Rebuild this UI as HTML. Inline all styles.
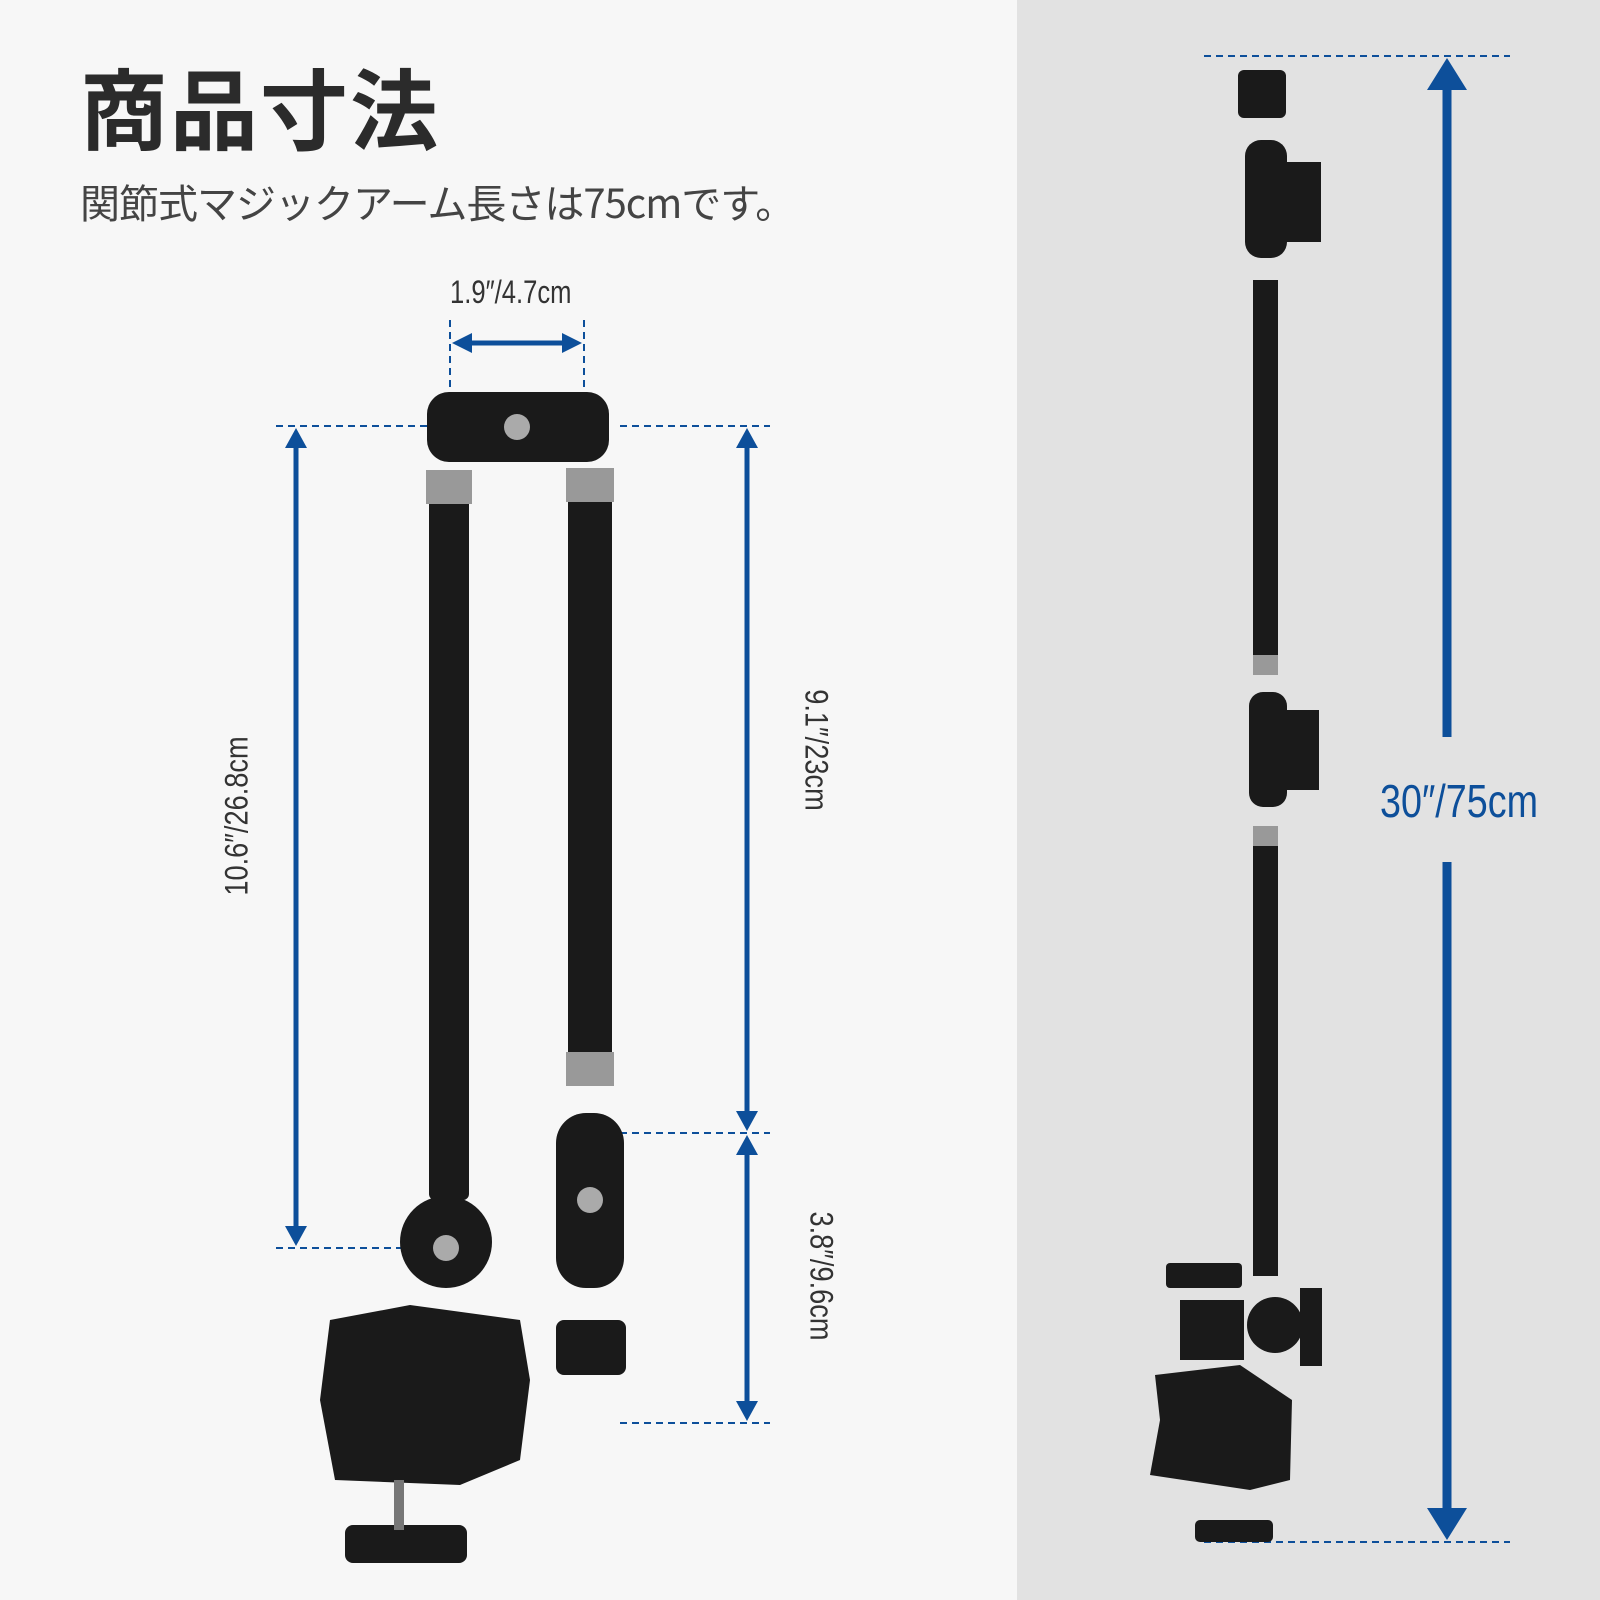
<!DOCTYPE html>
<html><head><meta charset="utf-8"><style>
html,body{margin:0;padding:0}
body{width:1600px;height:1600px;position:relative;background:#f7f7f7;overflow:hidden;font-family:"Liberation Sans","Noto Sans CJK JP",sans-serif}
.t{position:absolute;white-space:nowrap}
</style></head><body>
<div style="position:absolute;left:1017px;top:0;width:583px;height:1600px;background:#e2e2e2"></div>
<div class="t" style="left:80px;top:42px;font-size:88px;font-weight:bold;color:#2b2b2b;font-family:'Noto Sans CJK JP',sans-serif;letter-spacing:2px">商品寸法</div>
<div class="t" style="left:80px;top:172px;font-size:40px;color:#444;font-family:'Noto Sans CJK JP',sans-serif;letter-spacing:-1px">関節式マジックアーム長さは75cmです。</div>
<div class="t" style="left:450px;top:274px;font-size:32px;color:#333;transform:scaleX(0.8);transform-origin:left">1.9″/4.7cm</div>
<div class="t" style="left:237px;top:816px;font-size:32px;color:#333;transform:translate(-50%,-50%) rotate(-90deg) scaleX(0.85)">10.6″/26.8cm</div>
<div class="t" style="left:816px;top:750px;font-size:32px;color:#333;transform:translate(-50%,-50%) rotate(90deg) scaleX(0.85)">9.1″/23cm</div>
<div class="t" style="left:821px;top:1276px;font-size:32px;color:#333;transform:translate(-50%,-50%) rotate(90deg) scaleX(0.85)">3.8″/9.6cm</div>
<div class="t" style="left:1459px;top:801px;font-size:46px;color:#0d4f9a;transform:translate(-50%,-50%) scaleX(0.82)">30″/75cm</div>
<svg width="1600" height="1600" style="position:absolute;left:0;top:0">
<g stroke="#0d4f9a" stroke-width="2" stroke-dasharray="7,5" fill="none">
<line x1="450" y1="320" x2="450" y2="392"/><line x1="584" y1="320" x2="584" y2="392"/>
<line x1="276" y1="426" x2="427" y2="426"/><line x1="620" y1="426" x2="770" y2="426"/>
<line x1="276" y1="1248" x2="420" y2="1248"/>
<line x1="620" y1="1133" x2="770" y2="1133"/><line x1="620" y1="1423" x2="770" y2="1423"/>
<line x1="1204" y1="56" x2="1510" y2="56"/><line x1="1204" y1="1542" x2="1510" y2="1542"/>
</g>
<g fill="#0d4f9a" stroke="#0d4f9a">
<line x1="465" y1="343" x2="570" y2="343" stroke-width="5"/>
<polygon points="452,343 472,333 472,353" stroke="none"/><polygon points="582,343 562,333 562,353" stroke="none"/>
<line x1="296" y1="440" x2="296" y2="1234" stroke-width="5"/>
<polygon points="296,428 285,448 307,448" stroke="none"/><polygon points="296,1246 285,1226 307,1226" stroke="none"/>
<line x1="747" y1="440" x2="747" y2="1120" stroke-width="5"/>
<polygon points="747,428 736,448 758,448" stroke="none"/><polygon points="747,1131 736,1111 758,1111" stroke="none"/>
<line x1="747" y1="1146" x2="747" y2="1410" stroke-width="5"/>
<polygon points="747,1135 736,1155 758,1155" stroke="none"/><polygon points="747,1421 736,1401 758,1401" stroke="none"/>
<line x1="1447" y1="80" x2="1447" y2="737" stroke-width="9"/>
<polygon points="1447,58 1427,90 1467,90" stroke="none"/>
<line x1="1447" y1="862" x2="1447" y2="1520" stroke-width="9"/>
<polygon points="1447,1540 1427,1508 1467,1508" stroke="none"/>
</g>
<g fill="#1a1a1a">
<rect x="427" y="392" width="182" height="70" rx="22"/>
<rect x="429" y="470" width="40" height="730" rx="6"/>
<rect x="568" y="468" width="44" height="596"/>
<rect x="426" y="470" width="46" height="34" fill="#999"/><rect x="566" y="468" width="48" height="34" fill="#999"/>
<rect x="566" y="1052" width="48" height="34" fill="#999"/>
<rect x="556" y="1113" width="68" height="175" rx="30"/>
<rect x="556" y="1320" width="70" height="55" rx="8"/>
<circle cx="446" cy="1242" r="46"/>
<polygon points="330,1320 410,1305 520,1320 530,1380 520,1460 460,1485 335,1480 320,1400"/>
<rect x="345" y="1525" width="122" height="38" rx="8"/>
<rect x="394" y="1480" width="10" height="50" fill="#777"/>
<rect x="1238" y="70" width="48" height="48" rx="6"/>
<rect x="1245" y="140" width="42" height="118" rx="16"/><rect x="1285" y="162" width="36" height="80"/>
<rect x="1253" y="280" width="25" height="380"/>
<rect x="1249" y="692" width="38" height="115" rx="14"/><rect x="1285" y="710" width="34" height="80"/>
<rect x="1253" y="826" width="25" height="450"/>
<rect x="1166" y="1263" width="76" height="25" rx="4"/>
<rect x="1180" y="1300" width="64" height="60"/>
<circle cx="1275" cy="1325" r="28"/><rect x="1300" y="1288" width="22" height="78"/>
<polygon points="1155,1375 1240,1365 1292,1400 1290,1480 1250,1490 1150,1475 1160,1420"/>
<rect x="1195" y="1520" width="78" height="22" rx="5"/>
</g>
<g fill="#aaa">
<circle cx="517" cy="427" r="13"/><circle cx="590" cy="1200" r="13"/><circle cx="446" cy="1248" r="13"/>
<rect x="1253" y="655" width="25" height="20" fill="#999"/><rect x="1253" y="826" width="25" height="20" fill="#999"/>
</g>
</svg>
</body></html>
